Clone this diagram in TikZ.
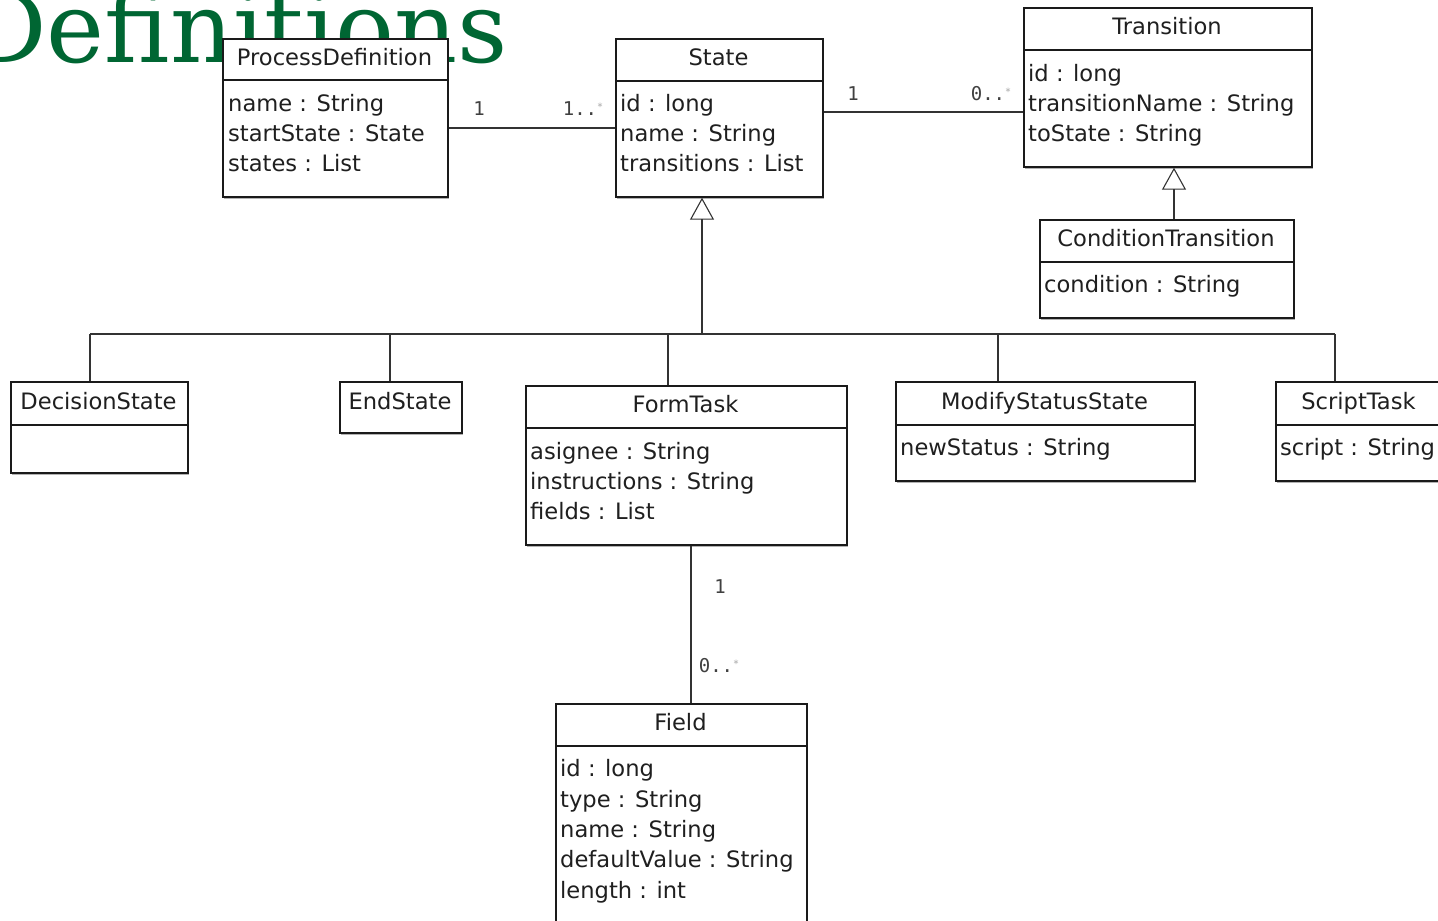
\documentclass[tikz,border=0pt]{standalone}
\usepackage{fontspec}
\setmainfont{DejaVu Sans}
\newfontfamily\titlefont{DejaVu Serif}
\newfontfamily\multfont{DejaVu Sans Mono}
\usetikzlibrary{arrows.meta,shadows}
\definecolor{titlegreen}{HTML}{006633}
\definecolor{lineclr}{HTML}{1A1A1A}
\definecolor{txtclr}{HTML}{1F1F1F}
\newcommand\manymult[1]{#1..\textcolor{black!35}{\raisebox{0.55ex}{\fontsize{10}{10}\selectfont *}}}
\newcommand\umlbox[6]{%
  \node[cls, anchor=north west, minimum width={#4pt-#2pt}, minimum height={#5pt-#3pt}] (#1) at (#2,#3) {};
  \draw[divline] (#1.west |- 0,#6) -- (#1.east |- 0,#6);
}
\begin{document}
\begin{tikzpicture}[x=1pt,y=-1pt,
  cls/.style={draw=lineclr, line width=1.7pt, fill=white, inner sep=0pt,
    drop shadow={shadow xshift=1.5pt, shadow yshift=-2pt, opacity=0.3, fill=black}},
  divline/.style={draw=lineclr, line width=1.7pt},
  ttl/.style={anchor=base, inner sep=0pt, text=txtclr, font=\fontsize{22.6}{26}\selectfont},
  attr/.style={anchor=base west, inner sep=0pt, text=txtclr, font=\fontsize{22.6}{26}\selectfont},
  conn/.style={draw=black!80, line width=1.1pt},
  mult/.style={inner sep=0pt, text=black!75, font=\multfont\fontsize{19}{22}\selectfont},
  gen/.style={conn, -{Triangle[open, length=22pt, width=24pt, line width=1.1pt]}}]
\useasboundingbox (0,0) rectangle (1438,921);
\clip (0,0) rectangle (1438,921);
\fill[white] (0,0) rectangle (1438,921);

% title
\node[anchor=base east, inner sep=0pt, text=titlegreen, font=\titlefont\fontsize{98}{100}\selectfont] (title) at (508,62) {Definitions};

% ProcessDefinition
\umlbox{pd}{222}{38}{447}{196}{80}
\node[ttl] (pdt) at (334.5,65) {ProcessDefinition};
\node[attr] (pda1) at (228,111) {name : String};
\node[attr] (pda2) at (228,141) {startState : State};
\node[attr] (pda3) at (228,171) {states : List};

% State
\umlbox{st}{615}{38}{822}{196}{81}
\node[ttl] (stt) at (718.5,65) {State};
\node[attr] (sta1) at (620,111) {id : long};
\node[attr] (sta2) at (620,141) {name : String};
\node[attr] (sta3) at (620,171) {transitions : List};

% Transition
\umlbox{tr}{1023}{7}{1311}{166}{50}
\node[ttl] (trt) at (1167,34) {Transition};
\node[attr] (tra1) at (1028,81) {id : long};
\node[attr] (tra2) at (1028,111) {transitionName : String};
\node[attr] (tra3) at (1028,141) {toState : String};

% ConditionTransition
\umlbox{ct}{1039}{219}{1293}{317}{262}
\node[ttl] (ctt) at (1166,246) {ConditionTransition};
\node[attr] (cta1) at (1044,292) {condition : String};

% DecisionState
\umlbox{ds}{10}{381}{187}{472}{425}
\node[ttl] (dst) at (98.5,409) {DecisionState};

% EndState
\node[cls, anchor=north west, minimum width=122pt, minimum height=51pt] (es) at (339,381) {};
\node[ttl] (est) at (400,409) {EndState};

% FormTask
\umlbox{ft}{525}{385}{846}{544}{428}
\node[ttl] (ftt) at (685.5,412) {FormTask};
\node[attr] (fta1) at (530,459) {asignee : String};
\node[attr] (fta2) at (530,489) {instructions : String};
\node[attr] (fta3) at (530,519) {fields : List};

% ModifyStatusState
\umlbox{ms}{895}{381}{1194}{480}{425}
\node[ttl] (mst) at (1044.5,409) {ModifyStatusState};
\node[attr] (msa1) at (900,455) {newStatus : String};

% ScriptTask
\umlbox{sc}{1275}{381}{1442}{480}{425}
\node[ttl] (sct) at (1358.5,409) {ScriptTask};
\node[attr] (sca1) at (1280,455) {script : String};

% Field
\umlbox{fd}{555}{703}{806}{935}{746}
\node[ttl] (fdt) at (680.5,730) {Field};
\node[attr] (fda1) at (560,776) {id : long};
\node[attr] (fda2) at (560,807) {type : String};
\node[attr] (fda3) at (560,837) {name : String};
\node[attr] (fda4) at (560,867) {defaultValue : String};
\node[attr] (fda5) at (560,898) {length : int};

% associations
\draw[conn] (pd.east |- 0,128) -- (st.west |- 0,128);
\node[mult] (m1) at (479,109) {1};
\node[mult] (m2) at (583,109) {\manymult{1}};
\draw[conn] (st.east |- 0,112) -- (tr.west |- 0,112);
\node[mult] (m3) at (853,94) {1};
\node[mult] (m4) at (991,94) {\manymult{0}};
\draw[conn] (ft.south -| 691,0) -- (fd.north -| 691,0);
\node[mult] (m5) at (720,587) {1};
\node[mult] (m6) at (719,666) {\manymult{0}};

% generalisations
\coordinate (busL) at (90,334);
\coordinate (busR) at (1335,334);
\coordinate (busS) at (702,334);
\draw[conn] (busL) -- (busR);
\draw[gen] (busS) -- (st.south -| busS);
\draw[conn] (busL) -- (ds.north -| busL);
\coordinate (dEs) at (390,334);
\draw[conn] (dEs) -- (es.north -| dEs);
\coordinate (dFt) at (668,334);
\draw[conn] (dFt) -- (ft.north -| dFt);
\coordinate (dMs) at (998,334);
\draw[conn] (dMs) -- (ms.north -| dMs);
\draw[conn] (busR) -- (sc.north -| busR);
\coordinate (ctTop) at (1174,219);
\draw[gen] (ct.north -| ctTop) -- (tr.south -| ctTop);
\end{tikzpicture}
\end{document}
